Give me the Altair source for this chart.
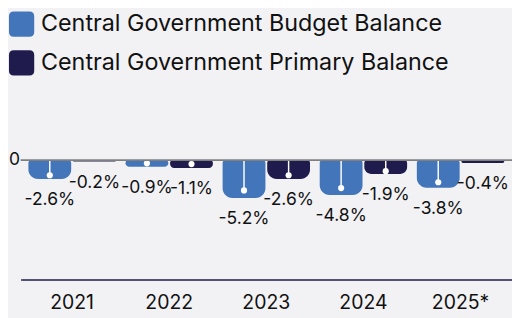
import altair as alt
import pandas as pd

years = ["2021", "2022", "2023", "2024", "2025*"]
budget = [-2.6, -0.9, -5.2, -4.8, -3.8]
primary = [-0.2, -1.1, -2.6, -1.9, -0.4]
series_names = ["Central Government Budget Balance", "Central Government Primary Balance"]
colors = ["#4375ba", "#1f1c4d"]

rows = []
for y, b, p in zip(years, budget, primary):
    rows.append({"year": y, "series": series_names[0], "value": b, "label": f"{b:.1f}%"})
    rows.append({"year": y, "series": series_names[1], "value": p, "label": f"{p:.1f}%"})
df = pd.DataFrame(rows)

FONT = "Inter"
yscale = alt.Scale(domain=[-16.4, 20.27], nice=False, zero=False)
xenc = alt.X("year:N", sort=years, scale=alt.Scale(paddingInner=0.1, paddingOuter=0.08),
             axis=alt.Axis(title=None, domainColor="#1f1c4d", domainWidth=1.5, ticks=False,
                           labelFontSize=20, labelFont=FONT, labelColor="#111111",
                           labelPadding=14, labelAngle=0, grid=False))
xoff = alt.XOffset("series:N", sort=series_names, scale=alt.Scale(paddingInner=0.04))

rounded = ("M -1,-0.62 Q -1,-1 -0.62,-1 L 0.62,-1 Q 1,-1 1,-0.62 L 1,0.62 "
           "Q 1,1 0.62,1 L -0.62,1 Q -1,1 -1,0.62 Z")

base = alt.Chart(df).transform_calculate(z="0")

bars = base.mark_bar(cornerRadiusTopLeft=3, cornerRadiusTopRight=3,
                     cornerRadiusBottomLeft=10, cornerRadiusBottomRight=10).encode(
    x=xenc,
    xOffset=xoff,
    y=alt.Y("value:Q", scale=yscale,
            axis=alt.Axis(title=None, values=[0], domain=False, ticks=False, grid=False,
                          labelFontSize=18, labelFont=FONT, labelColor="#111111",
                          labelPadding=1)),
    y2="z:Q",
    color=alt.Color("series:N", sort=series_names,
                    scale=alt.Scale(domain=series_names, range=colors),
                    legend=alt.Legend(title=None, orient="none", legendX=-12, legendY=-1,
                                      direction="vertical", symbolType=rounded,
                                      symbolSize=676, symbolStrokeWidth=0,
                                      labelFontSize=24, labelFont=FONT, labelColor="#111111",
                                      labelOffset=7, rowPadding=14, padding=0,
                                      labelLimit=500)),
)

lolli_base = base.transform_filter("abs(datum.value) >= 0.5").transform_calculate(
    dot="datum.value < -1.5 ? datum.value * 0.8 : datum.value * 0.5"
)
stems = lolli_base.mark_rule(color="white", strokeWidth=1.5).encode(
    x=xenc, xOffset=xoff, y=alt.Y("dot:Q", scale=yscale), y2="z:Q"
)
dots = lolli_base.mark_circle(color="white", size=40, opacity=1).encode(
    x=xenc, xOffset=xoff, y=alt.Y("dot:Q", scale=yscale)
)

labels = base.mark_text(fontSize=18, font=FONT, color="#111111", dy=22,
                        baseline="middle", align="center").encode(
    x=xenc, xOffset=xoff, y=alt.Y("value:Q", scale=yscale), text="label:N"
)

zero = alt.Chart(pd.DataFrame({"v": [0]})).mark_rule(color="#7f7f7f", strokeWidth=2).encode(
    y=alt.Y("v:Q", scale=yscale)
)

chart = alt.layer(bars, stems, dots, labels, zero).properties(
    width=506, height=275,
    autosize=alt.AutoSizeParams(type="none"),
    padding={"left": 13, "top": 0, "right": 0, "bottom": 35},
    background="#f2f2f5",
).configure_view(stroke=None)

chart.save("out.html", embed_options={"renderer": "svg", "actions": False})
